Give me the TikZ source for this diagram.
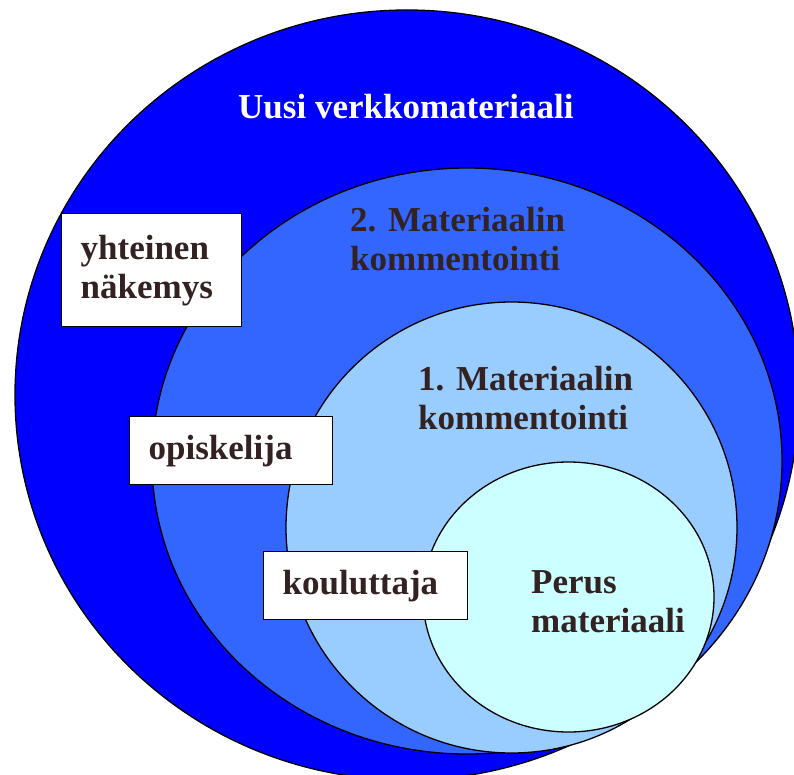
\documentclass[tikz,border=0pt]{standalone}
\usepackage{fontspec}
\setmainfont{Liberation Serif}
\definecolor{outerblue}{HTML}{0000FF}
\definecolor{midblue}{HTML}{3366FF}
\definecolor{lightblue}{HTML}{99CCFF}
\definecolor{paleblue}{HTML}{CCFFFF}
\definecolor{darktext}{RGB}{51,34,34}
\tikzset{
  ring/.style={draw=black, line width=1.3pt},
  ringtext/.style={font=\fontsize{35}{39}\selectfont\bfseries, text=darktext, align=left, inner sep=0pt, anchor=base west},
  rolebox/.style={draw=black, line width=1.3pt, fill=white, font=\fontsize{35}{39}\selectfont\bfseries, text=darktext, align=left, inner xsep=19pt, inner ysep=0pt, anchor=north west}
}
\begin{document}
\begin{tikzpicture}[x=1pt, y=-1pt]
	  \useasboundingbox (0,0) rectangle (794,775);
	  \clip (0,0) rectangle (794,775);
	  \filldraw[ring, fill=outerblue, overlay] (407,395) ellipse [x radius=392, y radius=385];
	  \filldraw[ring, fill=midblue] (467,461) ellipse [x radius=315, y radius=293];
	  \filldraw[ring, fill=lightblue] (511.5,527.5) ellipse [x radius=225.5, y radius=225.5];
	  \filldraw[ring, fill=paleblue] (568.5,597) ellipse [x radius=145.5, y radius=135];
	  % base anchor sits on the last line
	  \node[ringtext, text=white] (uusi) at (238,119) {Uusi verkkomateriaali};
	  \begin{scope}
	    \clip (330,190) rectangle (600,272);
	    \node[ringtext] (toinen) at (350,271) {2. Materiaalin\\kommentointi};
	  \end{scope}
	  \node[ringtext] (ensimmainen) at (418,429) {1. Materiaalin\\kommentointi};
	  \node[ringtext] (perus) at (531,632) {Perus\\materiaali};
	  \node[rolebox, text width=142pt, minimum height=113pt] (nakemys) at (61,213) {yhteinen\\näkemys};
	  \node[rolebox, text width=165pt, minimum height=68pt] (opiskelija) at (129,416) {opiskelija};
	  \node[rolebox, text width=166pt, minimum height=68pt] (kouluttaja) at (263,551) {kouluttaja};
	\end{tikzpicture}
\end{document}
